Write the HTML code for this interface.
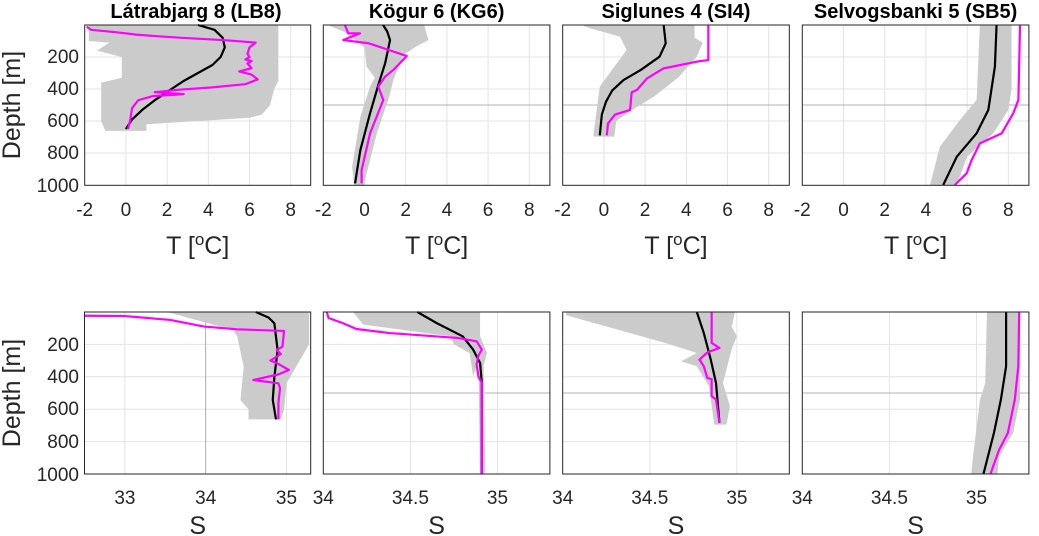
<!DOCTYPE html>
<html><head><meta charset="utf-8"><style>
html,body{margin:0;padding:0;background:#fff;}
svg{display:block;font-family:"Liberation Sans",Arial,sans-serif;}
.tk{font-size:19px;fill:#262626;}
.lb{font-size:25px;fill:#262626;}
.tt{font-size:20px;font-weight:bold;fill:#000;}
.g{stroke:#e3e3e3;stroke-width:1;fill:none;}
.gd{stroke:#9a9a9a;stroke-width:0.8;fill:none;}
.bx{stroke:#262626;stroke-width:1;fill:none;}
.sh{fill:#cbcbcb;stroke:none;}
.k{fill:none;stroke:#000;stroke-width:2.2;vector-effect:non-scaling-stroke;stroke-linejoin:round;}
.m{fill:none;stroke:#ff00ff;stroke-width:2.2;vector-effect:non-scaling-stroke;stroke-linejoin:round;}
</style></head><body>
<svg width="1039" height="536" viewBox="0 0 1039 536">
<g class="g">
<path d="M84.7 57H310.7M84.7 89H310.7M84.7 121H310.7M84.7 153H310.7"/>
<path d="M125.9 25V185M167.1 25V185M208.3 25V185M249.5 25V185M290.7 25V185"/>
<path d="M323.3 57H549.9M323.3 89H549.9M323.3 121H549.9M323.3 153H549.9"/>
<path d="M364.5 25V185M405.7 25V185M446.9 25V185M488.1 25V185M529.3 25V185"/>
<path d="M562.7 57H789.3M562.7 89H789.3M562.7 121H789.3M562.7 153H789.3"/>
<path d="M603.9 25V185M645.1 25V185M686.3 25V185M727.5 25V185M768.7 25V185"/>
<path d="M802.3 57H1028.9M802.3 89H1028.9M802.3 121H1028.9M802.3 153H1028.9"/>
<path d="M843.5 25V185M884.7 25V185M925.9 25V185M967.1 25V185M1008.3 25V185"/>
</g>
<path class="gd" d="M323.3 105H549.9M562.7 105H789.3M802.3 105H1028.9"/>
<g class="g">
<path d="M84.5 344.4H310.7M84.5 376.8H310.7M84.5 409.2H310.7M84.5 441.6H310.7"/>
<path d="M124.9 312V474M286.5 312V474"/>
<path d="M323.3 344.4H549.9M323.3 376.8H549.9M323.3 409.2H549.9M323.3 441.6H549.9"/>
<path d="M410.4 312V474M497.5 312V474"/>
<path d="M562.7 344.4H789.3M562.7 376.8H789.3M562.7 409.2H789.3M562.7 441.6H789.3"/>
<path d="M649.8 312V474M736.9 312V474"/>
<path d="M802.3 344.4H1028.9M802.3 376.8H1028.9M802.3 409.2H1028.9M802.3 441.6H1028.9"/>
<path d="M889.4 312V474M976.5 312V474"/>
</g>
<path class="gd" d="M205.7 312V474M323.3 393H549.9M562.7 393H789.3M802.3 393H1028.9"/>

<g transform="translate(125.9,25) scale(20.6,0.16)">
<polygon class="sh" points="-1.8,0 7.4,0 7.4,350 7.2,400 7.1,450 7.0,500 6.6,560 6.0,580 1.0,620 1.0,662 -1.0,662 -1.2,600 -1.2,360 -0.2,330 -0.2,200 -1.4,160 -0.8,110 -1.8,100"/>
<polyline class="k" points="3.5,0 4.3,30 4.7,80 4.8,140 4.6,200 4.2,250 3.5,300 2.8,350 2.1,410 1.4,470 0.8,530 0.3,590 0,650"/>
<polyline class="m" points="-1.9,10 -1.7,30 -0.5,45 0.5,60 1.5,70 2.7,80 4.8,95 6.3,110 6.0,140 5.9,180 6.0,200 5.8,215 6.1,225 5.9,240 6.1,270 5.5,290 6.1,310 6.4,340 5.8,370 4.2,390 2.5,405 1.4,420 2.8,432 1.3,445 0.6,470 0.3,520 0.2,600 0.1,650"/>
</g>
<g transform="translate(364.5,25) scale(20.6,0.16)">
<polygon class="sh" points="-1.8,0 2.9,0 3.1,94 2.5,135 1.9,187 1.4,344 1.2,448 0.6,677 0,980 0,1000 -0.5,1000 -0.6,885 -0.2,573 0.27,385 0.5,330 0.1,260 0,140 -1.0,42"/>
<polyline class="k" points="0.9,0 1.1,40 1.24,94 1.1,180 1.0,240 0.67,375 0.27,552 -0.2,781 -0.46,990"/>
<polyline class="m" points="-0.95,0 -0.79,52 -0.22,52 -1.03,94 0.23,115 2.05,194 1.4,281 1.0,323 0.67,385 0.91,469 0.27,677 -0.14,906 -0.14,990"/>
</g>
<g transform="translate(603.9,25) scale(20.6,0.16)">
<polygon class="sh" points="-1.1,0 4.4,0 4.4,80 4.8,110 4.5,200 3.6,330 2.4,450 1.5,520 0.6,600 0.5,698 -0.5,698 -0.5,677 -0.2,385 1.1,156 0.78,73 -0.67,20"/>
<polyline class="k" points="2.9,0 3.0,115 2.7,198 1.8,280 0.95,344 0.4,410 0.1,480 -0.1,560 -0.2,690"/>
<polyline class="m" points="5.07,0 5.07,219 4.6,227 2.9,271 2.1,333 1.6,406 1.35,420 1.27,531 0.54,560 0.2,615 0.14,690"/>
</g>
<g transform="translate(843.5,25) scale(20.6,0.16)">
<polygon class="sh" points="6.62,0 8.16,0 8.16,400 8.0,531 7.27,677 6.0,823 5.5,1000 4.2,1000 4.68,760 5.65,594 6.46,469"/>
<polyline class="k" points="7.43,0 7.35,260 7.03,531 6.46,677 5.5,823 4.84,1000"/>
<polyline class="m" points="8.57,0 8.49,469 8.24,552 7.68,677 6.62,740 6.2,850 5.98,927 5.4,1000"/>
</g>

<g transform="translate(-2541.5,312) scale(80.8,0.162)">
<polygon class="sh" points="33.52,0 35.28,0 35.28,200 35.0,440 34.97,600 34.93,663 34.53,663 34.53,600 34.43,543 34.47,337 34.39,152 34.34,111"/>
<polyline class="k" points="34.62,0 34.78,35 34.85,70 34.89,235 34.85,400 34.83,543 34.87,663"/>
<polyline class="m" points="32.5,23 33.0,25 33.56,49 33.98,90 34.39,107 34.97,117 34.95,214 34.88,235 34.93,260 34.8,300 34.88,315 35.03,358 34.9,385 34.59,420 34.9,440 34.92,471 34.9,560 34.9,663"/>
</g>
<g transform="translate(-5599.5,312) scale(174.2,0.162)">
<polygon class="sh" points="34.17,0 34.90,0 34.90,150 34.94,253 34.92,330 34.93,984 34.92,1000 34.9,1000 34.89,300 34.86,397 34.84,253 34.75,200 34.73,150 34.23,78"/>
<polyline class="k" points="34.54,0 34.65,68 34.80,150 34.86,232 34.90,315 34.91,438 34.91,1000"/>
<polyline class="m" points="34.02,0 34.03,37 34.11,68 34.19,105 34.38,130 34.77,160 34.88,181 34.91,232 34.89,270 34.88,325 34.89,397 34.91,438 34.91,1000"/>
</g>
<g transform="translate(-5360.1,312) scale(174.2,0.162)">
<polygon class="sh" points="34.02,0 34.99,0 34.97,90 35.0,150 34.97,230 34.92,438 34.96,582 34.94,695 34.87,695 34.84,459 34.77,335 34.68,305 34.77,253 34.59,191 34.02,20"/>
<polyline class="k" points="34.77,0 34.81,130 34.85,294 34.88,438 34.90,685"/>
<polyline class="m" points="34.855,0 34.855,191 34.90,222 34.83,250 34.785,294 34.81,335 34.83,407 34.855,415 34.855,520 34.88,540 34.90,685"/>
</g>
<g transform="translate(-5120.5,312) scale(174.2,0.162)">
<polygon class="sh" points="35.06,0 35.25,0 35.25,541 35.21,747 35.13,891 35.12,1000 34.97,1000 34.98,891 35.02,541 35.05,438"/>
<polyline class="k" points="35.17,0 35.17,335 35.14,541 35.10,747 35.04,1000"/>
<polyline class="m" points="35.245,0 35.24,335 35.22,541 35.18,747 35.13,850 35.08,1000"/>
</g>

<g class="bx">
<rect x="84.7" y="25" width="226" height="160.3"/>
<rect x="323.3" y="25" width="226.6" height="160.3"/>
<rect x="562.7" y="25" width="226.6" height="160.3"/>
<rect x="802.3" y="25" width="226.6" height="160.3"/>
<rect x="84.5" y="312" width="226.2" height="162"/>
<rect x="323.3" y="312" width="226.6" height="162"/>
<rect x="562.7" y="312" width="226.6" height="162"/>
<rect x="802.3" y="312" width="226.6" height="162"/>
</g>

<text class="tt" x="196" y="18" text-anchor="middle">Látrabjarg 8 (LB8)</text>
<text class="tt" x="436.6" y="18" text-anchor="middle">Kögur 6 (KG6)</text>
<text class="tt" x="676" y="18" text-anchor="middle">Siglunes 4 (SI4)</text>
<text class="tt" x="915.6" y="18" text-anchor="middle">Selvogsbanki 5 (SB5)</text>

<g class="tk" text-anchor="end">
<text x="79" y="63">200</text><text x="79" y="95">400</text><text x="79" y="127">600</text><text x="79" y="159">800</text><text x="79" y="192">1000</text>
<text x="79" y="351">200</text><text x="79" y="383">400</text><text x="79" y="415">600</text><text x="79" y="448">800</text><text x="79" y="481">1000</text>
</g>
<text class="lb" transform="translate(20,105) rotate(-90)" text-anchor="middle">Depth [m]</text>
<text class="lb" transform="translate(20,393) rotate(-90)" text-anchor="middle">Depth [m]</text>

<g class="tk" text-anchor="middle">
<text x="84.7" y="216">-2</text><text x="125.9" y="216">0</text><text x="167.1" y="216">2</text><text x="208.3" y="216">4</text><text x="249.5" y="216">6</text><text x="290.7" y="216">8</text>
<text x="323.3" y="216">-2</text><text x="364.5" y="216">0</text><text x="405.7" y="216">2</text><text x="446.9" y="216">4</text><text x="488.1" y="216">6</text><text x="529.3" y="216">8</text>
<text x="562.7" y="216">-2</text><text x="603.9" y="216">0</text><text x="645.1" y="216">2</text><text x="686.3" y="216">4</text><text x="727.5" y="216">6</text><text x="768.7" y="216">8</text>
<text x="802.3" y="216">-2</text><text x="843.5" y="216">0</text><text x="884.7" y="216">2</text><text x="925.9" y="216">4</text><text x="967.1" y="216">6</text><text x="1008.3" y="216">8</text>
</g>
<g class="lb" text-anchor="middle">
<text x="197.7" y="254">T [<tspan dy="-9" font-size="17">o</tspan><tspan dy="9">C]</tspan></text>
<text x="436.6" y="254">T [<tspan dy="-9" font-size="17">o</tspan><tspan dy="9">C]</tspan></text>
<text x="676" y="254">T [<tspan dy="-9" font-size="17">o</tspan><tspan dy="9">C]</tspan></text>
<text x="915.6" y="254">T [<tspan dy="-9" font-size="17">o</tspan><tspan dy="9">C]</tspan></text>
</g>

<g class="tk" text-anchor="middle">
<text x="124.9" y="504">33</text><text x="205.7" y="504">34</text><text x="286.5" y="504">35</text>
<text x="323.3" y="504">34</text><text x="410.4" y="504">34.5</text><text x="497.5" y="504">35</text>
<text x="562.7" y="504">34</text><text x="649.8" y="504">34.5</text><text x="736.9" y="504">35</text>
<text x="802.3" y="504">34</text><text x="889.4" y="504">34.5</text><text x="976.5" y="504">35</text>
</g>
<g class="lb" text-anchor="middle">
<text x="197.7" y="534">S</text><text x="436.6" y="534">S</text><text x="676" y="534">S</text><text x="915.6" y="534">S</text>
</g>
</svg>
</body></html>
